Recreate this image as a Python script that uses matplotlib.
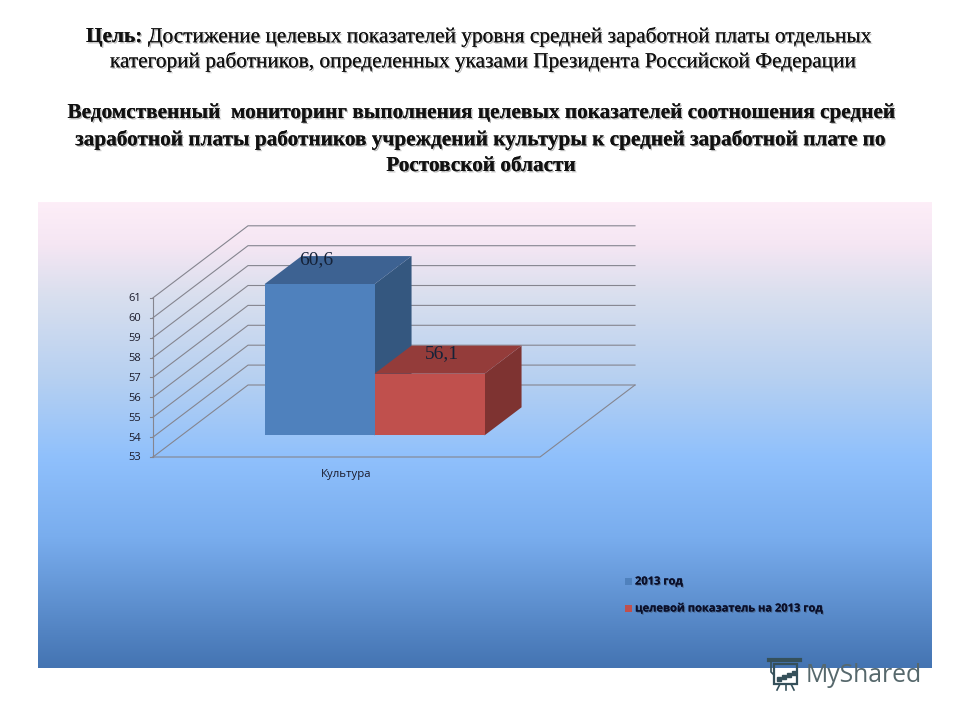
"""Slide with a pseudo-3D bar chart, drawn on a pixel-sized axes."""

import matplotlib.patheffects as pe
import matplotlib.pyplot as plt
import numpy as np
from matplotlib.colors import LinearSegmentedColormap
from matplotlib.patches import Polygon, Rectangle

categories = ["Культура"]
series_names = ["2013 год", "целевой показатель на 2013 год"]
series_values = [60.6, 56.1]
value_labels = ["60,6", "56,1"]
y_ticks = [53, 54, 55, 56, 57, 58, 59, 60, 61]

goal_head = "Цель:"
goal_line1 = "Достижение целевых показателей уровня средней заработной платы отдельных"
goal_line2 = "категорий работников, определенных указами Президента Российской Федерации"
title_lines = [
    "Ведомственный  мониторинг выполнения целевых показателей соотношения средней",
    "заработной платы работников учреждений культуры к средней заработной плате по",
    "Ростовской области",
]

SERIF = "Liberation Serif"
SANS = "Open Sans"
fill_colors = [("#4f81bd", "#3d6292", "#34577f"), ("#c0504d", "#943c3a", "#7e3331")]

# projection of the chart box, in pixels
X0, Y0 = 153, 457
FLOOR_W = 387
DX, DY = 95, -72
UNIT = 19.9


def project(x_frac, depth, value):
    """x along the floor (0-1), depth into the box (0-1), value on the y axis."""
    return (
        X0 + x_frac * FLOOR_W + depth * DX,
        Y0 + depth * DY - (value - y_ticks[0]) * UNIT,
    )


fig = plt.figure(figsize=(9.6, 7.2), dpi=100, facecolor="white")
ax = fig.add_axes([0, 0, 1, 1])
ax.set_xlim(0, 960)
ax.set_ylim(720, 0)
ax.axis("off")

# background gradient of the chart panel
cmap = LinearSegmentedColormap.from_list(
    "panel",
    [
        (0.0, "#fdeef8"),
        (0.09, "#f5e6f3"),
        (0.2, "#d9dfee"),
        (0.38, "#b6d0f1"),
        (0.55, "#8fc0fc"),
        (0.72, "#79adee"),
        (1.0, "#4474b2"),
    ],
)
ax.imshow(
    np.linspace(0, 1, 256).reshape(-1, 1),
    cmap=cmap,
    extent=(38, 932, 668, 202),
    aspect="auto",
    zorder=0,
)
ax.set_xlim(0, 960)
ax.set_ylim(720, 0)

# heading
shadow = [pe.withSimplePatchShadow(offset=(1.0, -1.0), shadow_rgbFace="#666666", alpha=0.45), pe.Normal()]
head = dict(ha="left", va="center", fontsize=15.35, family=SERIF, color="#111111", path_effects=shadow)
ax.text(86, 37, goal_head, fontweight="bold", **head)
ax.text(148, 37, goal_line1, **head)
ax.text(481, 62, goal_line2, **{**head, "ha": "center"})
for y_pos, line in zip([113, 140, 166], title_lines):
    ax.text(481, y_pos, line, **{**head, "ha": "center", "fontweight": "bold", "fontsize": 15.3})

# walls and gridlines
grid = dict(color="#85858f", lw=0.8, zorder=1)
for tick in y_ticks:
    fx, fy = project(0, 0, tick)
    bx, by = project(0, 1, tick)
    ex, ey = project(1, 1, tick)
    ax.plot([fx, bx, ex], [fy, by, ey], **grid)
    ax.plot([fx - 3, fx], [fy, fy], **grid)
    ax.text(fx - 12, fy + 1, str(tick), ha="right", va="center", fontsize=8, family=SANS, color="#1a1a2a")
ax.plot(*zip(project(0, 0, y_ticks[0]), project(0, 0, y_ticks[-1])), **grid)
ax.plot(*zip(project(0, 0, y_ticks[0]), project(1, 0, y_ticks[0]), project(1, 1, y_ticks[0])), **grid)
ax.text(346, 474, categories[0], ha="center", va="center", fontsize=8.2, family=SANS, color="#1a1a2a")

# bars, each label sits towards the back left of its top face
BAR_W = 110 / FLOOR_W
BAR_START = 83 / FLOOR_W
D_NEAR, D_FAR = 0.3, 0.69
label_shift = [(-40, 4), (-25, 8)]
for i, value in enumerate(series_values):
    x1 = BAR_START + i * BAR_W
    x2 = x1 + BAR_W
    front_c, top_c, side_c = fill_colors[i]
    base = y_ticks[0]
    front = [project(x1, D_NEAR, base), project(x2, D_NEAR, base), project(x2, D_NEAR, value), project(x1, D_NEAR, value)]
    top = [project(x1, D_NEAR, value), project(x2, D_NEAR, value), project(x2, D_FAR, value), project(x1, D_FAR, value)]
    side = [project(x2, D_NEAR, base), project(x2, D_FAR, base), project(x2, D_FAR, value), project(x2, D_NEAR, value)]
    for pts, col in [(side, side_c), (top, top_c), (front, front_c)]:
        ax.add_patch(Polygon(pts, closed=True, facecolor=col, edgecolor="none", zorder=2 + i))
    lx, ly = project(x1 + BAR_W / 2, D_FAR, value)
    ax.text(lx + label_shift[i][0], ly + label_shift[i][1], value_labels[i], ha="center", va="center",
            fontsize=14, family=SERIF, color="#152238", zorder=5)

# legend
legend_shadow = [pe.withSimplePatchShadow(offset=(0.8, -0.8), shadow_rgbFace="#333333", alpha=0.4), pe.Normal()]
for y_pos, name, cols in zip([581, 608], series_names, fill_colors):
    ax.add_patch(Rectangle((625, y_pos - 3.5), 7, 7, facecolor=cols[0], edgecolor="none", zorder=5))
    ax.text(635, y_pos + 1, name, ha="left", va="center", fontsize=8.0, family=SANS, fontweight="bold",
            color="#0a0f2a", path_effects=legend_shadow, zorder=5)

# watermark
ink = "#35505a"
ax.text(806, 675, "MyShared", ha="left", va="center", fontsize=17.8, family=SANS, color="#56686c", zorder=6)
ax.add_patch(Rectangle((774, 664), 23, 20, facecolor="none", edgecolor=ink, lw=1.6, zorder=6))
ax.plot([769, 800], [660, 660], color=ink, lw=3, zorder=6)
ax.plot([771, 771, 774], [660, 672, 675], color=ink, lw=1.2, zorder=6)
ax.plot([779, 784, 789, 794], [679, 677, 675, 673], ls="none", marker="s", ms=2.5, color=ink, zorder=6)
ax.plot([780, 777], [684, 690], color=ink, lw=1.2, zorder=6)
ax.plot([791, 794], [684, 690], color=ink, lw=1.2, zorder=6)
ax.plot([785.5, 785.5], [684, 690], color=ink, lw=1.2, zorder=6)

plt.savefig("out.png", dpi=100)
plt.close()
